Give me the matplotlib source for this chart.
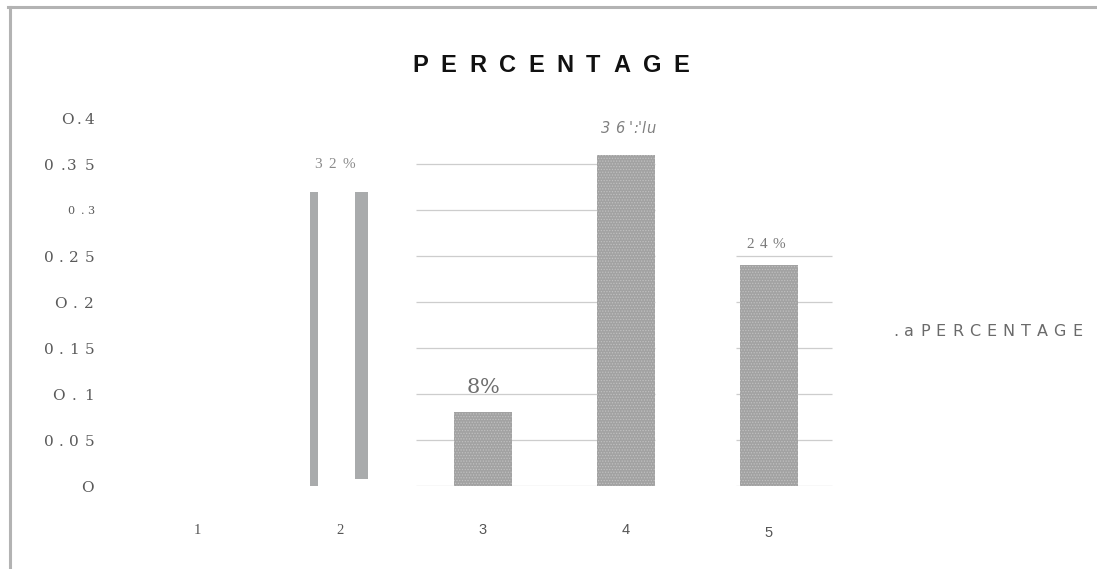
import matplotlib.pyplot as plt
from matplotlib import font_manager
from matplotlib.font_manager import FontProperties
from matplotlib.ft2font import FT2Font
from matplotlib.lines import Line2D

# category positions and values
cats = [1, 2, 3, 4, 5]
values = [0.0, 0.32, 0.08, 0.36, 0.24]
bar_labels = ["", "3 2 %", "8%", "3 6 ':'lu", "2 4 %"]
xtick_labels = ["1", "2", "3", "4", "5"]
yticks = [0.4, 0.35, 0.3, 0.25, 0.2, 0.15, 0.1, 0.05, 0.0]
ytick_labels = ["O.4", "0 .3 5", "0 .3", "0.25", "O.2", "0.15", "O.1", "0.05", "O"]
series_name = "PERCENTAGE"

W, H = 1097, 569
fig = plt.figure(figsize=(W / 100, H / 100), dpi=100)


def tracked(x, y, s, width, size, family, ha="left", color="#555555", **style):
    """Draw s with its baseline at display (x, y), letter-spaced to the given width."""
    prop = FontProperties(family=family, size=size, **style)
    font = FT2Font(font_manager.findfont(prop))
    font.set_size(size, fig.dpi)
    adv = [font.load_char(ord(c)).linearHoriAdvance / 65536 for c in s]
    track = (width - sum(adv)) / (len(s) - 1) if width and len(s) > 1 else 0
    track = max(track, 0)
    total = sum(adv) + track * (len(s) - 1)
    x0 = x - {"left": 0, "center": total / 2, "right": total}[ha]
    for c, a in zip(s, adv):
        fig.text(x0, y, c, fontproperties=prop, color=color, ha="left",
                 va="baseline", transform=None)
        x0 += a + track


# axes: y=0 at 486px, y=0.4 at 118px; x=1 at 197px, 143px per category
left_px, right_px = 100, 870
ax = fig.add_axes([left_px / W, 1 - 486 / H, (right_px - left_px) / W, (486 - 118) / H])
ax.set_xlim(1 + (left_px - 197) / 143, 1 + (right_px - 197) / 143)
ax.set_ylim(0, 0.4)
for s in ax.spines.values():
    s.set_visible(False)

# faint gridlines, only behind the right-hand group of bars
grid_kw = dict(color="#cdcdcd", linewidth=0.9, zorder=0)
ax.hlines([y for y in yticks if y <= 0.35], 2.53, 4.2, **grid_kw)
ax.hlines([y for y in yticks if y <= 0.25], 4.77, 5.44, **grid_kw)

# category 2 comes out as two thin strips
ax.bar(cats[1] - 0.18, values[1], width=0.055, color="#a9abac", linewidth=0, zorder=2)
ax.bar(cats[1] + 0.15, values[1] - 0.008, width=0.09, bottom=0.008,
       color="#a9abac", linewidth=0, zorder=2)

# the remaining bars with a stippled fill
plt.rcParams["hatch.linewidth"] = 0.6
ax.bar(cats[2:], values[2:], width=0.4, color="#a2a2a2", edgecolor="#c0c0c0",
       hatch="......", linewidth=0, zorder=2)

# x tick labels
ax.set_xticks(cats)
ax.set_xticklabels(xtick_labels)
ax.set_yticks([])
ax.tick_params(axis="x", length=0, pad=27, colors="#555555")
for i, lab in enumerate(ax.get_xticklabels()):
    lab.set_family("Liberation Serif" if i < 2 else "Liberation Sans")
    lab.set_fontsize(10.5)
ax.get_xticklabels()[4].set_y(-0.008)

# y tick labels, spread out
ylab_w = [33, 50, 27, 50, 40, 50, 42, 50, 0]
for v, t, w in zip(yticks, ytick_labels, ylab_w):
    yd = ax.transData.transform((1, v))[1]
    small = t == "0 .3"
    tracked(94, yd - (3.5 if small else 5.5), t, w, 8 if small else 11,
            "DejaVu Serif", ha="right", color="#5a5a5a")

# value labels above the bars
lab_style = [
    dict(size=11, family="Liberation Serif", color="#8a8a8a", width=41, dy=24, dx=-5),
    dict(size=15, family="DejaVu Serif", color="#6e6e6e", width=0, dy=19, dx=0),
    dict(size=10.5, family="DejaVu Sans", color="#808080", width=54, dy=22, dx=2, style="italic"),
    dict(size=11, family="Liberation Serif", color="#7a7a7a", width=39, dy=17, dx=-3),
]
for c, v, t, st in zip(cats[1:], values[1:], bar_labels[1:], lab_style):
    st = dict(st)
    xd, yd = ax.transData.transform((c, v))
    dx, dy = st.pop("dx"), st.pop("dy")
    tracked(xd + dx, yd + dy, t, ha="center", **st)

# title
tracked(551, H - 72, series_name, 277, 17, "Liberation Sans", ha="center",
        color="#111111", weight="bold")

# series name at the right
tracked(893, H - 336, ".a" + series_name, 189, 11.5, "DejaVu Sans", color="#6a6a6a")

# page border on top and left
fig.add_artist(Line2D([8 / W, 1], [1 - 7 / H, 1 - 7 / H], color="#b3b3b3", linewidth=2.2))
fig.add_artist(Line2D([10 / W, 10 / W], [0, 1 - 7 / H], color="#b3b3b3", linewidth=2.2))

fig.savefig("out.png", dpi=100, facecolor="white")
